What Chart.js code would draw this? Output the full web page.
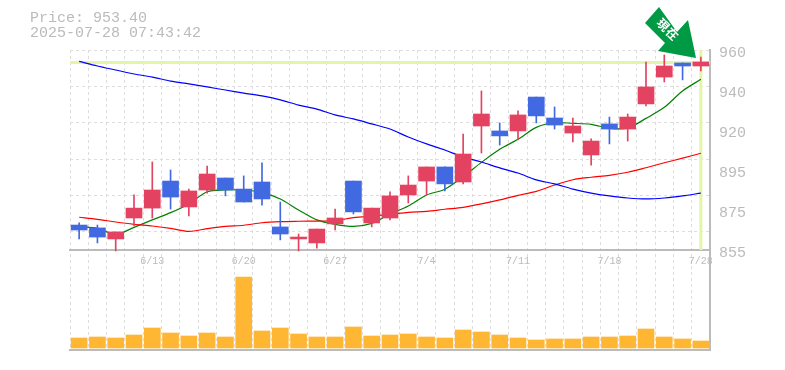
<!DOCTYPE html>
<html>
<head>
<meta charset="utf-8">
<style>
  html, body { margin:0; padding:0; background:#fff; }
  #wrap { position:relative; width:785px; height:370px; overflow:hidden; }
  #arrow { position:absolute; left:0; top:0; pointer-events:none; }
</style>
<script src="https://cdn.jsdelivr.net/npm/chart.js@4/dist/chart.umd.min.js"></script>
</head>
<body>
<div id="wrap">
  <canvas id="chart" width="785" height="370"></canvas>
  <svg id="arrow" width="785" height="370">
    <polygon points="659,7 645,23 665,43 658,51 696,58 688,20 677,32" fill="#009944"/>
    <text transform="translate(664,24) rotate(45)" x="0" y="0" fill="#fff" font-family="Noto Sans CJK JP" font-weight="700" font-size="12" text-anchor="middle" dominant-baseline="central">現</text>
    <text transform="translate(673,33) rotate(45)" x="0" y="0" fill="#fff" font-family="Noto Sans CJK JP" font-weight="700" font-size="12" text-anchor="middle" dominant-baseline="central">在</text>
  </svg>
</div>
<script>
const priceTitle = ['Price: 953.40', '2025-07-28 07:43:42'];
const currentPrice = 953.4;

const dates = ['6/9','6/10','6/11','6/12','6/13','6/16','6/17','6/18','6/19','6/20','6/23','6/24','6/25','6/26','6/27','6/30','7/1','7/2','7/3','7/4','7/7','7/8','7/9','7/10','7/11','7/14','7/15','7/16','7/17','7/18','7/22','7/23','7/24','7/25','7/28'];
const dateLabels = ['6/13','6/20','6/27','7/4','7/11','7/18','7/28'];

// y axis is really 21 yen per label, the picture rounds the text to 5s
const priceTicks = [855, 876, 897, 918, 939, 960];
const priceTickLabels = ['855', '875', '895', '920', '940', '960'];

const opens  = [868.1,866.6,860.8,871.8,877,891.2,877.6,886.5,892.8,887,890.7,867.1,860.8,858.7,868.7,891.2,869.2,871.8,883.9,891.2,898.6,890.7,920.1,917.5,917.5,935.3,924.3,916.4,904.9,921.2,918.5,931.7,945.8,953.2,951.6];
const closes = [865.5,861.8,864.5,877,886.5,882.8,886,894.9,886.5,880.2,881.8,863.4,861.8,866,871.8,875,877,883.4,889.1,898.6,889.7,905.4,926.4,914.9,925.9,925.4,920.6,920.1,912.2,918.5,924.8,940.6,951.6,951.6,953.7];
const highs  = [869.2,868.1,864.5,883.9,901.2,897,887,899.1,892.8,893.9,900.7,880.2,863.4,866,876.5,891.2,877,885.5,893.9,898.6,898.6,915.9,938.5,921.7,928,935.3,930.1,924.3,913.3,924.8,926.4,953.7,957.4,953.2,956.3];
const lows   = [860.8,858.7,854.5,867.6,871.8,876.5,872.9,884.9,883.4,880.2,878.6,860.3,854.5,856,865.5,873.9,867.1,870.8,879.7,883.9,886,889.7,905.9,910.1,912.8,921.7,918.5,911.7,899.6,910.7,912.2,930.6,943.2,944.3,949];

const maShort = [867.2,866.4,863.2,866.9,870.8,874.6,879.2,885.6,886.5,886.5,885.1,881.8,876,870.8,868.5,867.4,869,873.9,878.1,883.9,886.9,893.5,901,907.9,913.1,919.4,921.8,921.5,921,918.9,919,924.1,929.9,938.5,944.6];
const maMid   = [872.2,871.1,869.7,868.5,867.6,866.4,864.8,866.2,867.4,868,869.3,869.9,870.1,870.2,870.4,872,872.9,873.7,874.8,875.3,876.4,877.4,879.2,881.3,883.7,885.8,889.1,891.9,893.2,894.2,895.8,898.2,900.8,903.2,905.8];
const maLong  = [954,951.6,949.5,947.4,945.8,943.7,942.2,940.6,939,937.4,935.9,933.8,931.1,929,925.9,923.8,921.2,918.5,914.3,910.7,907.5,903.8,901.2,898.1,895.4,891.8,889.7,887,884.9,883.4,882.3,881.8,882.3,883.4,884.9];

const volumes = [10,11,10,13,20,15,12,15,11,71,17,20,14,11,11,21,12,13,14,11,10,18,16,13,10,8,9,9,11,11,12,19,11,9,7];

const UP = '#e34360', DOWN = '#4169e1', AXIS = '#bbbbbb', GRID = '#dddddd', MARK = '#e2f5a8';
const candleColors = closes.map((c, i) => c >= opens[i] ? UP : DOWN);

// pale cross hair at the current price, under the candles
const priceCross = {
  id: 'priceCross',
  beforeDatasetsDraw(chart) {
    const { ctx, chartArea, scales } = chart;
    const py = scales.y.getPixelForValue(currentPrice);
    const px = scales.x.getPixelForValue(dates.length - 1);
    ctx.save();
    ctx.strokeStyle = MARK;
    ctx.lineWidth = 3;
    ctx.beginPath();
    ctx.moveTo(chartArea.left, py); ctx.lineTo(chartArea.right, py);
    ctx.moveTo(px, scales.y.getPixelForValue(960)); ctx.lineTo(px, scales.y.getPixelForValue(855));
    ctx.stroke();
    ctx.restore();
  }
};

const lineDs = (data, color) => ({ type:'line', data, yAxisID:'y', borderColor:color, borderWidth:1.2, pointRadius:0, tension:0.3, order:5 });

new Chart(document.getElementById('chart'), {
  type: 'bar',
  plugins: [priceCross],
  data: {
    labels: dates,
    datasets: [
      lineDs(maLong, '#0000ff'),
      lineDs(maMid, '#ff0000'),
      lineDs(maShort, '#008000'),
      { data: highs.map((h, i) => [lows[i], h]), yAxisID:'y', backgroundColor:candleColors, barThickness:1, grouped:false, order:3 },
      { data: opens.map((o, i) => [o, closes[i]]), yAxisID:'y', backgroundColor:candleColors, barThickness:16, grouped:false, order:2 },
      { data: volumes, yAxisID:'yVol', backgroundColor:'#ffb733', barThickness:16, grouped:false, order:1 }
    ]
  },
  options: {
    responsive: false,
    animation: false,
    layout: { padding: { left:30, right:0, top:11, bottom:20 } },
    plugins: {
      legend: { display:false },
      tooltip: { enabled:false },
      title: {
        display: true,
        text: priceTitle,
        align: 'start',
        color: AXIS,
        font: { family:'"Liberation Mono", monospace', size:15, weight:'normal', lineHeight:1 },
        padding: { top:0, bottom:9 }
      }
    },
    scales: {
      x: {
        position: { y: 855 },
        grid: { color:GRID, offset:true, drawTicks:false },
        border: { color:AXIS, width:2, dash:[3,3] },
        ticks: {
          autoSkip:false, maxRotation:0, padding:5, color:AXIS,
          font: { family:'"Liberation Mono", monospace', size:10 },
          callback(v) { const t = dates[v]; return dateLabels.includes(t) ? t : ''; }
        }
      },
      // only there for the line along the bottom
      xBase: {
        type:'category', labels:dates, position:'bottom',
        grid: { display:false, drawTicks:false },
        border: { color:AXIS, width:2 },
        ticks: { display:false },
        afterFit(s) { s.height = 0; }
      },
      y: {
        position:'right', min:802.5, max:960,
        grid: { display:false, drawTicks:false },
        border: { color:AXIS, width:2 },
        afterBuildTicks(s) { s.ticks = priceTicks.map(value => ({ value })); },
        afterFit(s) { s.width = 75; },
        ticks: {
          padding:9, color:AXIS, labelOffset:3,
          font: { family:'"Liberation Mono", monospace', size:15 },
          callback(v) { return priceTickLabels[priceTicks.indexOf(v)]; }
        }
      },
      // holds the horizontal grid, 11 rows over the price panel
      yGrid: {
        position:'left', min:0, max:16.5, reverse:true,
        grid: { color:GRID, drawTicks:false },
        border: { display:false, dash:[3,3] },
        ticks: { display:false },
        afterBuildTicks(s) { s.ticks = s.ticks.filter(t => t.value <= 11); },
        afterFit(s) { s.width = 40; }
      },
      yVol: { display:false, min:-2, max:298 }
    }
  }
});
</script>
</body>
</html>
